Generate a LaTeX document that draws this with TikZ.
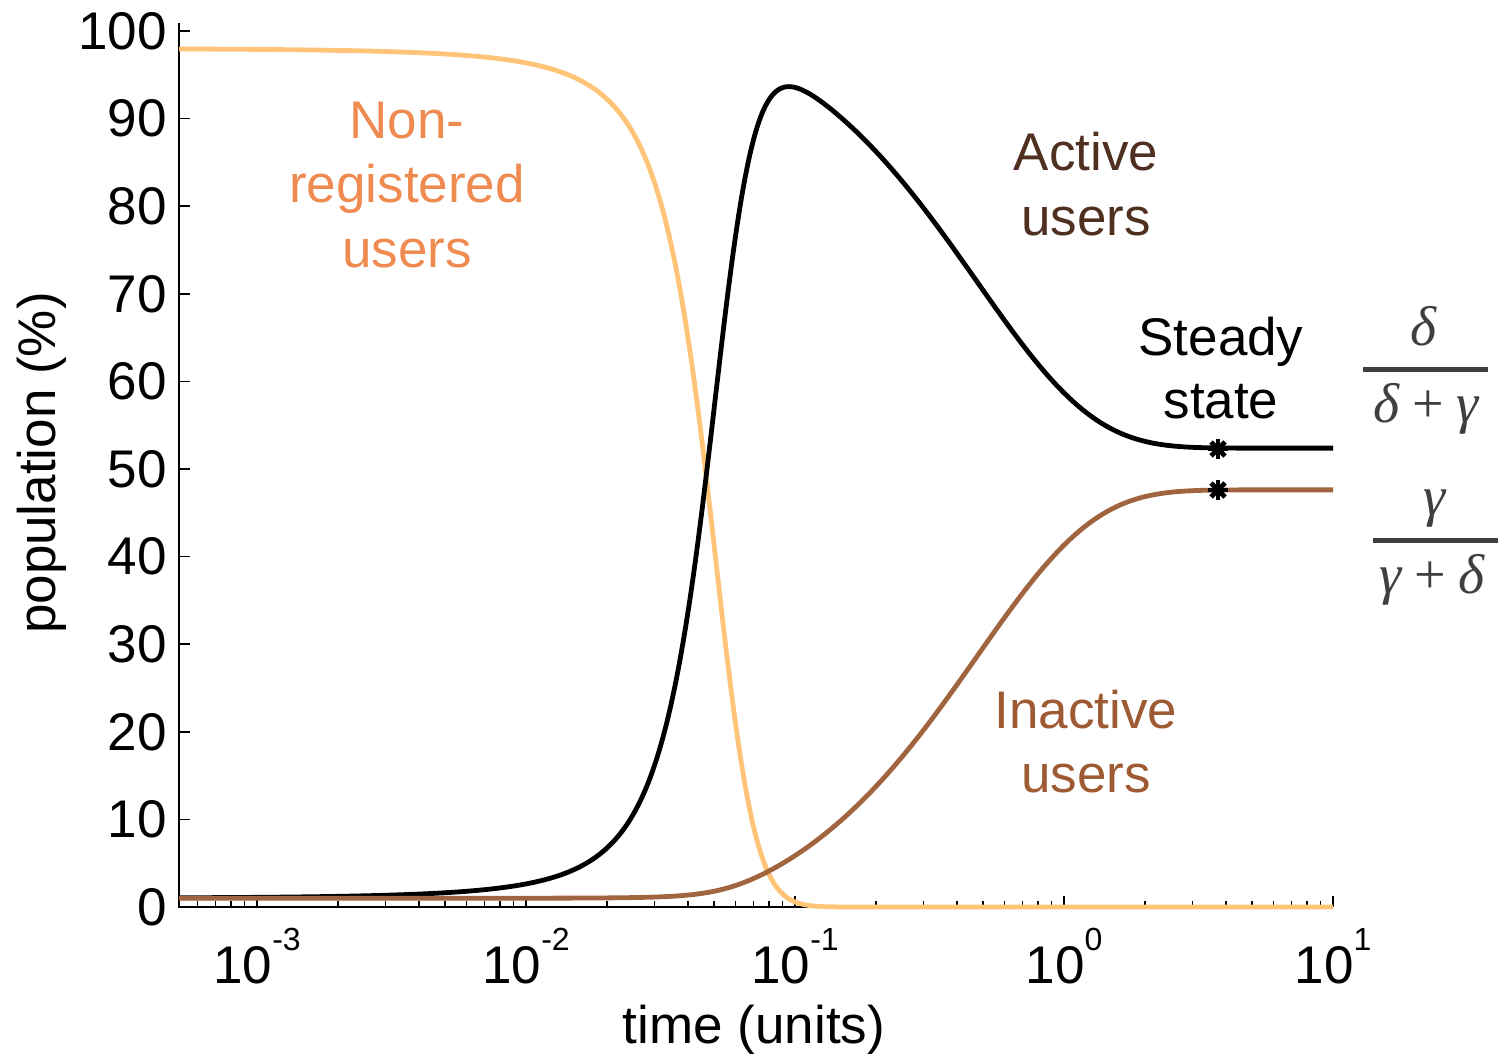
\documentclass[tikz,border=0pt]{standalone}
\usepackage{fontspec}
\setmainfont{Liberation Sans}
\newfontfamily\gkfont{Liberation Serif}
\definecolor{cNRline}{HTML}{FFC478}
\definecolor{cNRtext}{HTML}{EF8B50}
\definecolor{cAtext}{HTML}{4F3020}
\definecolor{cIline}{HTML}{A0643F}
\definecolor{cItext}{HTML}{9E5A32}
\definecolor{cFrac}{HTML}{3F3F3F}
\newcommand{\gvar}[1]{{\itshape #1}}
\newcommand{\gplus}{\hspace{0.22em}{\upshape +}\hspace{0.22em}}

% Population model, integrated in logarithmic time u = ln t (midpoint rule):
%   N' = -b N A,   A' = b N A - g A + d I,   I' = g A - d I
% Each path is stored in page pixels: x = 257 + 269 (log10 t + 3), y = 907 - 8.76 value.
\ExplSyntaxOn
\fp_const:Nn \c_sim_b_fp { 1.0 }
\fp_const:Nn \c_sim_g_fp { 1.0 }
\fp_const:Nn \c_sim_d_fp { 1.1 }
\fp_new:N \l_sim_n_fp
\fp_new:N \l_sim_a_fp
\fp_new:N \l_sim_i_fp
\fp_new:N \l_sim_u_fp
\fp_new:N \l_sim_du_fp
\fp_new:N \l_sim_t_fp
\fp_new:N \l_sim_fn_fp
\fp_new:N \l_sim_fa_fp
\fp_new:N \l_sim_fi_fp
\fp_new:N \l_sim_nm_fp
\fp_new:N \l_sim_am_fp
\fp_new:N \l_sim_im_fp
\fp_new:N \l_sim_x_fp
\tl_new:N \g_sim_n_tl
\tl_new:N \g_sim_a_tl
\tl_new:N \g_sim_i_tl
\cs_new:Npn \sim_px:n #1 { \fp_to_decimal:n { round( #1 , 2 ) } }
\cs_new:Npn \sim_point:n #1
  { ( \sim_px:n { \l_sim_x_fp } , \sim_px:n { 907 - 8.76 * ( #1 ) } ) }
\cs_new_protected:Npn \sim_rates:NNNN #1#2#3#4
  {
    \fp_set:Nn \l_sim_fn_fp { - #1 * \c_sim_b_fp * #2 * #3 }
    \fp_set:Nn \l_sim_fi_fp { #1 * ( \c_sim_g_fp * #3 - \c_sim_d_fp * #4 ) }
    \fp_set:Nn \l_sim_fa_fp { - \l_sim_fn_fp - \l_sim_fi_fp }
  }
\cs_new_protected:Npn \sim_step:
  {
    \fp_set:Nn \l_sim_t_fp { exp( \l_sim_u_fp ) }
    \sim_rates:NNNN \l_sim_t_fp \l_sim_n_fp \l_sim_a_fp \l_sim_i_fp
    \fp_set:Nn \l_sim_nm_fp { \l_sim_n_fp + 0.5 * \l_sim_du_fp * \l_sim_fn_fp }
    \fp_set:Nn \l_sim_am_fp { \l_sim_a_fp + 0.5 * \l_sim_du_fp * \l_sim_fa_fp }
    \fp_set:Nn \l_sim_im_fp { \l_sim_i_fp + 0.5 * \l_sim_du_fp * \l_sim_fi_fp }
    \fp_set:Nn \l_sim_t_fp { exp( \l_sim_u_fp + 0.5 * \l_sim_du_fp ) }
    \sim_rates:NNNN \l_sim_t_fp \l_sim_nm_fp \l_sim_am_fp \l_sim_im_fp
    \fp_add:Nn \l_sim_n_fp { \l_sim_du_fp * \l_sim_fn_fp }
    \fp_add:Nn \l_sim_a_fp { \l_sim_du_fp * \l_sim_fa_fp }
    \fp_add:Nn \l_sim_i_fp { \l_sim_du_fp * \l_sim_fi_fp }
    \fp_add:Nn \l_sim_u_fp { \l_sim_du_fp }
    \fp_set:Nn \l_sim_x_fp { 257 + 269 * ( \l_sim_u_fp / ln(10) + 3 ) }
    \tl_gput_right:Nx \g_sim_n_tl { -- \sim_point:n { \l_sim_n_fp } }
    \tl_gput_right:Nx \g_sim_a_tl { -- \sim_point:n { \l_sim_a_fp } }
    \tl_gput_right:Nx \g_sim_i_tl { -- \sim_point:n { \l_sim_i_fp } }
  }
\cs_new_protected:Npn \sim_run:
  {
    \fp_set:Nn \l_sim_n_fp { 98 }
    \fp_set:Nn \l_sim_a_fp { 1 }
    \fp_set:Nn \l_sim_i_fp { 1 }
    \fp_set:Nn \l_sim_u_fp { ln(1e-5) }
    \fp_set:Nn \l_sim_du_fp { ( ln(10) - ln(1e-5) ) / 1400 }
    \fp_set:Nn \l_sim_x_fp { 257 + 269 * ( \l_sim_u_fp / ln(10) + 3 ) }
    \tl_gset:Nx \g_sim_n_tl { \sim_point:n { \l_sim_n_fp } }
    \tl_gset:Nx \g_sim_a_tl { \sim_point:n { \l_sim_a_fp } }
    \tl_gset:Nx \g_sim_i_tl { \sim_point:n { \l_sim_i_fp } }
    \int_step_inline:nn { 1400 } { \sim_step: }
  }
\sim_run:
\cs_gset_eq:NN \PathNonreg \g_sim_n_tl
\cs_gset_eq:NN \PathActive \g_sim_a_tl
\cs_gset_eq:NN \PathInactive \g_sim_i_tl
\ExplSyntaxOff

\tikzset{
  axisline/.style={line width=1pt, black},
  axtick/.style={line width=0.8pt, black},
  numlbl/.style={font=\fontsize{26.5}{30}\selectfont, inner sep=0pt},
  lbl/.style={font=\fontsize{26.5}{30}\selectfont, inner sep=0pt},
  frac/.style={font=\gkfont\fontsize{28}{32}\selectfont, inner sep=0pt, text=cFrac},
  fracbar/.style={line width=2.2pt, cFrac},
  curve/.style={line width=2.4pt, line join=round, line cap=butt},
  marker/.style={line width=2.4pt, black},
}
\begin{document}
\begin{tikzpicture}[x=0.5pt,y=-0.5pt]
\useasboundingbox (0,0) rectangle (1501,1054);

% axes
\draw[axisline] (179,23) -- (179,907) -- (1333,907);

% y ticks and labels (0..100 %)
\foreach \v in {0,10,...,100} {
  \pgfmathsetmacro\yy{907-8.76*\v}
  \draw[axtick] (179,\yy) -- (190,\yy);
  \node[numlbl, anchor=east] (y\v) at (167,\yy) {\v};
}

% x axis: logarithmic, one decade = 269 px, 10^-3 at x = 257
\foreach \e/\n in {-3/a,-2/b,-1/c,0/d,1/e} {
  \pgfmathsetmacro\xx{257+(\e+3)*269}
  \draw[axtick] (\xx,907) -- (\xx,896);
  \node[numlbl, anchor=base] (x\n) at (\xx,983)
    {10\raisebox{16.5pt}{\fontsize{16}{16}\selectfont\e}};
}
\foreach \d in {-3,...,0} {
  \foreach \k in {2,...,9} {
    \pgfmathsetmacro\xx{257+(\d+3)*269+269*log10(\k)}
    \draw[axtick] (\xx,907) -- (\xx,901);
  }
}
\foreach \k in {6,...,9} {
  \pgfmathsetmacro\xx{257-269+269*log10(\k)}
  \draw[axtick] (\xx,907) -- (\xx,901);
}

% axis titles
\node[lbl, rotate=90] (ylab) at (42,463) {population (\%)};
\node[lbl, anchor=base] (xlab) at (754,1043) {time (units)};

% model curves, shown for 5.1e-4 <= t <= 10
\begin{scope}
  \clip (179,0) rectangle (1333,1000);
  \draw[curve, cNRline] \PathNonreg;
  \draw[curve, black] \PathActive;
  \draw[curve, cIline] \PathInactive;
\end{scope}

% steady-state markers
\coordinate (mA) at (1218,449);
\coordinate (mI) at (1218,490);
\foreach \p in {mA,mI} {
  \draw[marker] (\p) +(-10,0) -- +(10,0);
  \draw[marker] (\p) +(0,-10) -- +(0,10);
  \draw[marker] (\p) +(-7,-7) -- +(7,7);
  \draw[marker] (\p) +(-7,7) -- +(7,-7);
}

% curve labels
\node[lbl, text=cNRtext, anchor=base] (nr1) at (407,139) {Non-};
\node[lbl, text=cNRtext, anchor=base] (nr2) at (407,203) {registered};
\node[lbl, text=cNRtext, anchor=base] (nr3) at (407,267) {users};
\node[lbl, text=cAtext, anchor=base] (ac1) at (1086,170) {Active};
\node[lbl, text=cAtext, anchor=base] (ac2) at (1086,235) {users};
\node[lbl, anchor=base] (ss1) at (1221,355) {Steady};
\node[lbl, anchor=base] (ss2) at (1221,418) {state};
\node[lbl, text=cItext, anchor=base] (in1) at (1086,728) {Inactive};
\node[lbl, text=cItext, anchor=base] (in2) at (1086,792) {users};

% steady-state fractions
\node[frac, anchor=base] (fAn) at (1424,345) {\gvar{δ}};
\draw[fracbar] (1363,369.5) -- (1488,369.5);
\node[frac, anchor=base] (fAd) at (1426,422) {\gvar{δ}\gplus\gvar{γ}};
\node[frac, anchor=base] (fIn) at (1435,515) {\gvar{γ}};
\draw[fracbar] (1373,540.5) -- (1498,540.5);
\node[frac, anchor=base] (fId) at (1432,593) {\gvar{γ}\gplus\gvar{δ}};
\end{tikzpicture}
\end{document}
